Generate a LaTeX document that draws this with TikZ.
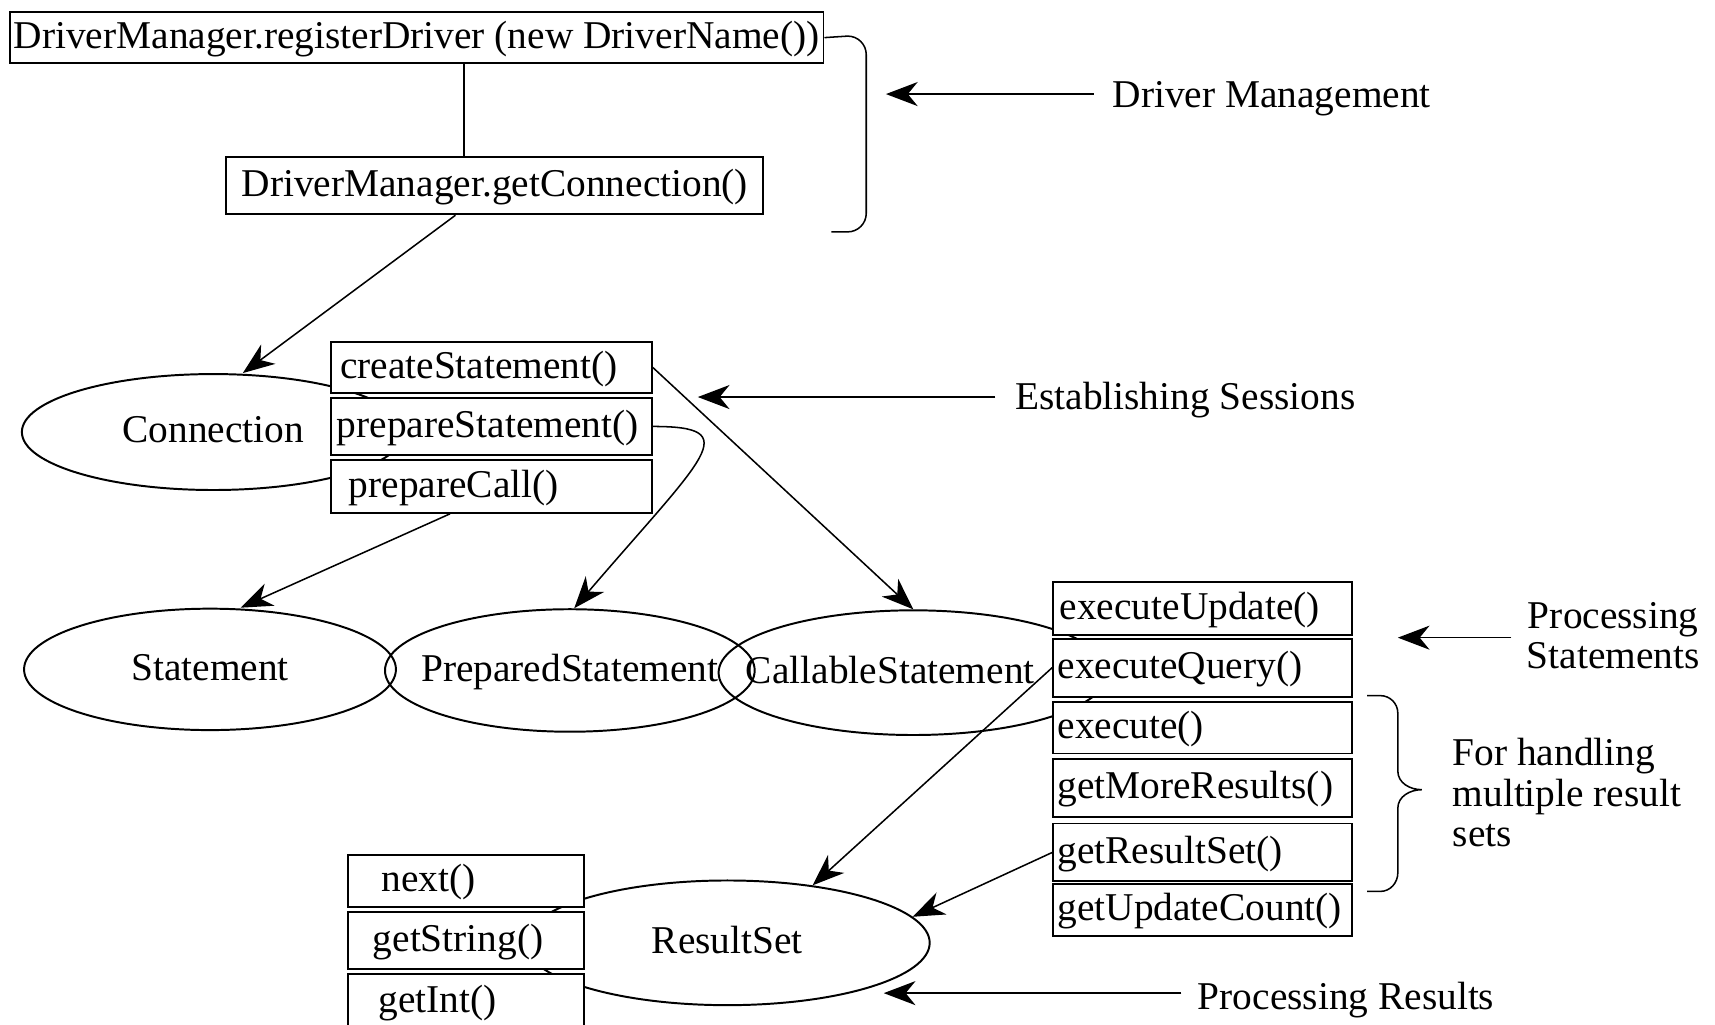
\documentclass[tikz,border=0pt]{standalone}
\usepackage{fontspec}
\setmainfont{Liberation Serif}
\usetikzlibrary{shapes.geometric,arrows.meta}
\tikzset{
  mbox/.style={draw, fill=white, line width=1.8pt, anchor=north west, inner ysep=0pt,
    text height=26pt, text depth=6pt},
  lbox/.style={mbox, align=left},
  ell/.style={draw, ellipse, line width=1.8pt, inner sep=0pt},
  conn/.style={line width=1.4pt, -{Stealth[length=29pt,width=22pt,inset=9pt]}},
  brace/.style={line width=1.4pt},
  lbl/.style={inner sep=2pt},
  every label/.style={text height=26pt, text depth=6pt}
}
\begin{document}
\begin{tikzpicture}[x=1pt,y=-1pt,font=\fontsize{36}{37}\selectfont]
\useasboundingbox (0,0) rectangle (1568,937);
\clip (0,0) rectangle (1568,937);

% ellipses
\node[ell, minimum width=350pt, minimum height=106pt, label={center:Connection}] (conn) at (195,395) {};
\node[ell, minimum width=340pt, minimum height=111pt, label={center:Statement}] (stmt) at (192,612) {};
\node[ell, minimum width=338pt, minimum height=112pt, label={center:PreparedStatement}] (pstmt) at (521,613) {};
\node[ell, minimum width=356pt, minimum height=114pt, label={[xshift=-21pt]center:CallableStatement}] (cstmt) at (835,615) {};
\node[ell, minimum width=370pt, minimum height=114pt, label={center:ResultSet}] (rs) at (665,862) {};

% top boxes
\node[mbox, minimum width=744pt, minimum height=47pt, inner xsep=2pt] (b1) at (8,10) {DriverManager.registerDriver (new DriverName())};
\node[mbox, minimum width=491pt, minimum height=52pt, inner xsep=2pt] (b2) at (206,143) {DriverManager.getConnection()};

% connection methods
\node[lbox, text width=277pt, inner xsep=8pt, minimum height=46pt] (cs) at (302,312) {createStatement()};
\node[lbox, text width=283pt, inner xsep=5pt, minimum height=52pt] (ps) at (302,363) {prepareStatement()};
\node[lbox, text width=261pt, inner xsep=16pt, minimum height=48pt] (pc) at (302,420) {prepareCall()};

% statement methods
\node[lbox, text width=261pt, inner xsep=6pt, minimum height=49pt] (eu) at (962,531) {executeUpdate()};
\node[lbox, text width=265pt, inner xsep=4pt, minimum height=53pt] (eq) at (962,583) {executeQuery()};
\node[lbox, text width=265pt, inner xsep=4pt, minimum height=47pt] (ex) at (962,641) {execute()};
\node[lbox, text width=265pt, inner xsep=4pt, minimum height=53pt] (gm) at (962,693) {getMoreResults()};
\node[lbox, text width=265pt, inner xsep=4pt, minimum height=53pt] (gr) at (962,752) {getResultSet()};
\node[lbox, text width=265pt, inner xsep=4pt, minimum height=48pt] (gu) at (962,807) {getUpdateCount()};

% resultset methods
\node[lbox, text width=154pt, inner xsep=31pt, minimum height=47pt] (nx) at (317,781) {next()};
\node[lbox, text width=170pt, inner xsep=23pt, minimum height=52pt] (gs) at (317,833) {getString()};
\node[lbox, text width=160pt, inner xsep=28pt, minimum height=50pt] (gi) at (317,890) {getInt()};

% connectors
\draw[line width=1.4pt] (b1.south -| 424,0) -- (b2.north -| 424,0);
\draw[conn] ([xshift=-36pt]b2.south) -- ([xshift=27pt]conn.north);
\draw[conn] (cs.east) -- (cstmt.north);
\draw[conn] (ps.east) .. controls +(85,0) and +(120,-140) .. ([xshift=4pt]pstmt.north);
\draw[conn] ([xshift=-38pt]pc.south) -- ([xshift=28pt]stmt.north);
\draw[conn] (eq.west) -- (rs.34);
\draw[conn] (gr.west) -- (rs.8);

% side labels
\node[lbl, anchor=west] (dm) at (1015,90) {Driver Management};
\coordinate (dmt) at (810,86);
\draw[conn] ([xshift=-15pt]dm.west |- dmt) -- (dmt);

\node[lbl, anchor=west] (es) at (926,366) {Establishing Sessions};
\coordinate (est) at (638,363);
\draw[conn] ([xshift=-16pt]es.west |- est) -- (est);

\node[lbl, align=center] (pst) at (1475,581) {Processing\\Statements};
\coordinate (pstt) at (1278,583);
\draw[conn] ([xshift=-12pt]pst.west |- pstt) -- (pstt);

\node[lbl, anchor=west] (pr) at (1093,914) {Processing Results};
\coordinate (prt) at (808,908);
\draw[conn] ([xshift=-13pt]pr.west |- prt) -- (prt);

\node[lbl, anchor=west, align=left] (fh) at (1326,725) {For handling\\multiple result\\sets};

% braces
\draw[brace] (b1.east) -- (775,33) to[out=0,in=90] (792,50) -- (792,195)
  to[out=-90,in=0] (775,212) -- (760,212);
\draw[brace] (1250,636) -- (1262,636) to[out=0,in=90] (1278,652) -- (1278,705)
  to[out=-90,in=180] (1300,722) to[out=180,in=90] (1278,739) -- (1278,798)
  to[out=-90,in=0] (1262,815) -- (1250,815);
\end{tikzpicture}
\end{document}
